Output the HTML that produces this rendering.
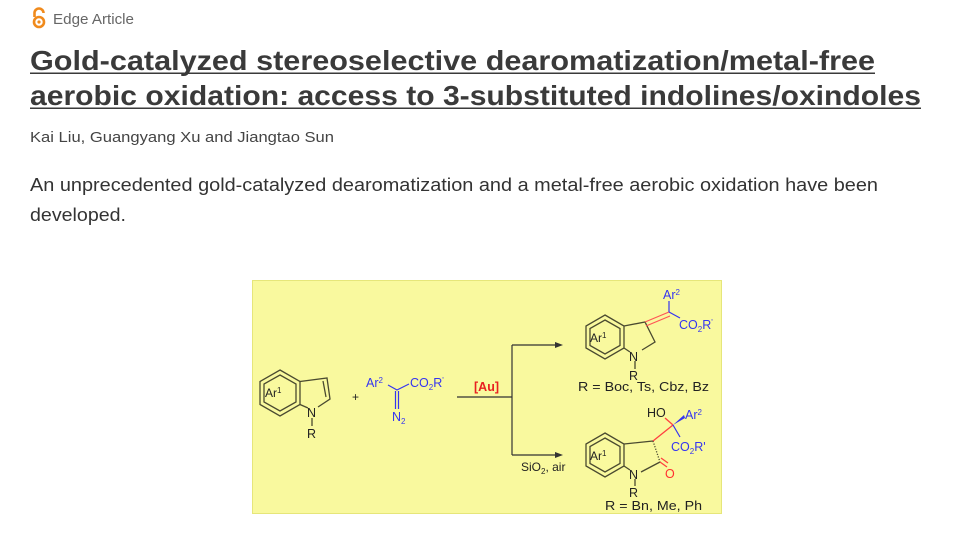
<!DOCTYPE html>
<html><head><meta charset="utf-8"><style>
html,body{margin:0;padding:0;background:#fff;}
svg{display:block;}
</style></head><body>
<svg width="960" height="539" viewBox="0 0 960 539" xmlns="http://www.w3.org/2000/svg" font-family="Liberation Sans, sans-serif">
<g fill="none" stroke="#f08a1c" stroke-width="2.6">
<path d="M34.5 17 V13 a4.5 4.5 0 0 1 9 0"/>
<circle cx="39" cy="22" r="5"/>
</g>
<circle cx="39" cy="22" r="1.6" fill="#f08a1c"/>
<text x="53" y="24" font-size="15" fill="#666" textLength="81" lengthAdjust="spacingAndGlyphs">Edge Article</text>
<text x="30" y="70" font-size="28" font-weight="bold" fill="#3a3a3a" textLength="845" lengthAdjust="spacingAndGlyphs">Gold-catalyzed stereoselective dearomatization/metal-free</text>
<rect x="30" y="72.5" width="845" height="1.5" fill="#3a3a3a"/>
<text x="30" y="105" font-size="28" font-weight="bold" fill="#3a3a3a" textLength="891" lengthAdjust="spacingAndGlyphs">aerobic oxidation: access to 3-substituted indolines/oxindoles</text>
<rect x="30" y="107.5" width="891" height="1.5" fill="#3a3a3a"/>
<text x="30" y="142" font-size="15" fill="#444" textLength="304" lengthAdjust="spacingAndGlyphs">Kai Liu, Guangyang Xu and Jiangtao Sun</text>
<text x="30" y="191" font-size="18" fill="#333" textLength="848" lengthAdjust="spacingAndGlyphs">An unprecedented gold-catalyzed dearomatization and a metal-free aerobic oxidation have been</text>
<text x="30" y="221" font-size="18" fill="#333" textLength="96" lengthAdjust="spacingAndGlyphs">developed.</text>

<rect x="252.5" y="280.5" width="469" height="233" fill="#f9f99e" stroke="#e6e67a"/>
<g font-size="12.5" fill="#222">
<g fill="none" stroke="#4a4a30" stroke-width="1.3">
<polygon points="280,370 300,381.5 300,404.5 280,416 260,404.5 260,381.5"/>
<polygon points="280,375 296,384 296,402 280,411 264,402 264,384"/>
<path d="M300,381.5 L327,378 L330,399 L318,407 M300,404.5 L308,408"/>
<path d="M323,381 L326,397"/>
<path d="M312,418 V426"/>
</g>
<text x="265" y="397" font-size="12">Ar<tspan font-size="8" dy="-4">1</tspan></text>
<text x="307" y="417">N</text>
<text x="307" y="438">R</text>
<text x="352" y="401" font-size="12">+</text>
<g fill="#3535f0">
<text x="366" y="387">Ar<tspan font-size="8" dy="-4">2</tspan></text>
<text x="410" y="387">CO<tspan font-size="8" dy="3">2</tspan><tspan dy="-3">R</tspan><tspan font-size="8" dy="-4">'</tspan></text>
<text x="392" y="421">N<tspan font-size="8" dy="3">2</tspan></text>
</g>
<g stroke="#3535f0" stroke-width="1.2" fill="none">
<path d="M388,385 L397,390 L409,384"/>
<path d="M395.5,391 V409 M398.5,391 V409"/>
</g>
<g stroke="#333" stroke-width="1.2" fill="none">
<path d="M457,397 H512 M512,345 V455 M512,345 H557 M512,455 H557"/>
</g>
<path d="M563,345 l-8,-3 v6z M563,455 l-8,-3 v6z" fill="#333"/>
<text x="474" y="391" font-weight="bold" fill="#e82020" font-size="12.5">[Au]</text>
<text x="521" y="471" font-size="12">SiO<tspan font-size="8" dy="3">2</tspan><tspan dy="-3">, air</tspan></text>
<g fill="none" stroke="#4a4a30" stroke-width="1.3">
<polygon points="605,315 624,326 624,348 605,359 586,348 586,326"/>
<polygon points="605,320 620,328.5 620,345.5 605,354 590,345.5 590,328.5"/>
<path d="M624,326 L645,322 L655,342 L642,350 M624,348 L630,352 M635,361 V369"/>
</g>
<path d="M645,322 L669,312 M646,326 L670,316" stroke="#ff5555" stroke-width="1.2"/>
<path d="M669,312 V301 M669,312 L680,318" stroke="#3535f0" stroke-width="1.2"/>
<text x="590" y="342" font-size="12">Ar<tspan font-size="8" dy="-4">1</tspan></text>
<text x="629" y="361">N</text>
<text x="629" y="380">R</text>
<g fill="#3535f0">
<text x="663" y="299">Ar<tspan font-size="8" dy="-4">2</tspan></text>
<text x="679" y="329">CO<tspan font-size="8" dy="3">2</tspan><tspan dy="-3">R</tspan><tspan font-size="8" dy="-4">'</tspan></text>
</g>
<text x="578" y="391" font-size="12.5" textLength="131" lengthAdjust="spacingAndGlyphs">R = Boc, Ts, Cbz, Bz</text>
<g fill="none" stroke="#4a4a30" stroke-width="1.3">
<polygon points="605,433 624,444 624,466 605,477 586,466 586,444"/>
<polygon points="605,438 620,446.5 620,463.5 605,472 590,463.5 590,446.5"/>
<path d="M624,444 L653,441 M624,466 L630,470 M635,479 V486 M641,472 L660,462"/>
</g>
<path d="M653,441 L660,462" stroke="#4a4a30" stroke-width="1.3" stroke-dasharray="1.2,1.5"/>
<path d="M660,462 L667,467 M653,441 L673,425 M673,425 L665,418" stroke="#ff4040" stroke-width="1.3" fill="none"/>
<path d="M661,458 L668,463" stroke="#ff4040" stroke-width="1.3"/>
<path d="M673,425 L685,418 L684,415z" fill="#3535f0"/>
<path d="M673,425 L680,437" stroke="#3535f0" stroke-width="1.2"/>
<text x="590" y="460" font-size="12">Ar<tspan font-size="8" dy="-4">1</tspan></text>
<text x="629" y="479">N</text>
<text x="629" y="497">R</text>
<text x="665" y="478" fill="#ff3030">O</text>
<text x="647" y="417">HO</text>
<g fill="#3535f0">
<text x="685" y="419">Ar<tspan font-size="8" dy="-4">2</tspan></text>
<text x="671" y="451">CO<tspan font-size="8" dy="3">2</tspan><tspan dy="-3">R'</tspan></text>
</g>
<text x="605" y="510" font-size="12.5" textLength="97" lengthAdjust="spacingAndGlyphs">R = Bn, Me, Ph</text>
</g>
</svg>
</body></html>
